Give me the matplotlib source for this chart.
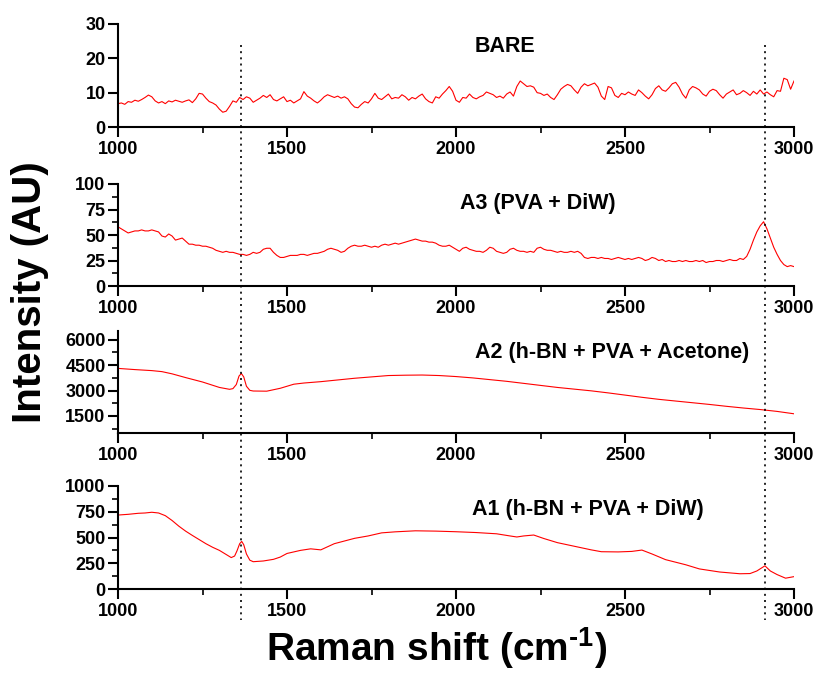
import numpy as np
import matplotlib
matplotlib.use("Agg")
import matplotlib.pyplot as plt
from matplotlib.ticker import MultipleLocator
from matplotlib.lines import Line2D
import matplotlib.transforms as mtransforms

plt.rcParams['font.family'] = ['Liberation Sans', 'DejaVu Sans']
plt.rcParams['font.weight'] = 'bold'
plt.rcParams['mathtext.fontset'] = 'custom'
plt.rcParams['mathtext.rm'] = 'Liberation Sans:bold'
plt.rcParams['mathtext.bf'] = 'Liberation Sans:bold'
plt.rcParams['mathtext.default'] = 'bf'

# ---------------- data ----------------
bare_x = np.arange(1000, 3001, 10)
bare_y = [
    6.8, 7.0, 6.6, 7.4, 7.2, 7.8, 7.5, 8.0, 8.6, 9.3,
    8.8, 7.6, 7.0, 7.4, 6.8, 7.6, 7.3, 7.8, 7.5, 7.2,
    7.6, 7.9, 7.1, 8.2, 9.8, 9.6, 8.4, 7.4, 7.0, 6.4,
    5.2, 4.3, 4.6, 6.0, 7.6, 7.2, 8.6, 8.0, 8.8, 8.4,
    7.2, 7.8, 8.4, 9.2, 8.6, 9.4, 8.0, 7.6, 8.2, 8.8,
    7.4, 7.8, 7.0, 7.6, 8.2, 10.3, 9.0, 8.4, 7.6, 7.0,
    7.8, 8.8, 9.4, 9.0, 8.6, 9.0, 8.4, 8.8, 8.2, 6.8,
    5.8, 5.6, 6.6, 7.4, 7.0, 8.2, 9.8, 8.4, 8.0, 8.8,
    9.6, 8.2, 8.6, 8.4, 9.4, 8.8, 7.8, 8.6, 8.2, 9.0,
    9.6, 8.2, 7.4, 7.0, 8.8, 8.4, 9.6, 10.6, 11.8, 10.4,
    7.8, 7.2, 8.6, 8.4, 9.6, 8.6, 8.2, 8.8, 9.2, 10.2,
    9.8, 9.4, 8.6, 9.0, 8.4, 9.6, 10.2, 9.0, 11.8, 13.4,
    12.6, 11.8, 12.0, 11.6, 10.0, 9.8, 9.2, 9.6, 8.6, 8.0,
    9.4, 11.0, 11.8, 12.4, 12.0, 10.8, 9.8, 11.6, 12.6, 12.0,
    12.4, 12.8, 11.6, 9.0, 8.0, 11.8, 11.4, 9.2, 8.6, 9.8,
    9.4, 10.2, 9.6, 9.2, 10.8, 10.0, 9.0, 8.2, 9.4, 11.2,
    12.0, 10.8, 10.4, 11.4, 12.6, 13.0, 11.6, 9.6, 8.4, 10.8,
    11.8, 11.4, 10.8, 9.6, 9.0, 10.4, 11.0, 10.6, 9.4, 8.4,
    9.6, 10.2, 10.8, 9.4, 9.8, 10.6, 10.0, 9.2, 10.4, 9.6,
    10.8, 9.6, 10.2, 9.4, 8.8, 10.6, 10.4, 14.2, 13.8, 11.0,
    13.4,
]

a3_x = np.arange(1000, 3001, 10)
a3_y = [
    58, 56, 54, 52, 53, 54, 54, 55, 54, 54,
    55, 54, 53, 49, 48, 51, 49, 45, 46, 47,
    44, 41, 41, 40, 40, 39, 39, 38, 37, 35,
    34, 33, 34, 33, 33, 32, 31, 31, 30, 31,
    33, 32, 33, 36, 37, 37, 33, 30, 28, 28,
    29, 30, 30, 30, 31, 31, 30, 31, 32, 32,
    33, 34, 36, 37, 36, 35, 33, 34, 37, 39,
    40, 39, 39, 40, 39, 38, 39, 38, 40, 41,
    40, 41, 42, 41, 42, 43, 44, 45, 46, 45,
    44, 44, 43, 43, 42, 40, 39, 39, 40, 38,
    36, 34, 37, 38, 36, 35, 34, 34, 33, 35,
    38, 37, 34, 33, 32, 33, 36, 37, 35, 34,
    34, 33, 34, 33, 37, 38, 36, 35, 35, 34,
    33, 34, 33, 33, 34, 33, 34, 32, 28, 27,
    28, 28, 27, 28, 27, 27, 26, 27, 28, 27,
    26, 27, 26, 27, 28, 27, 25, 26, 28, 27,
    25, 26, 24, 25, 24, 24, 25, 24, 25, 24,
    24, 25, 24, 25, 23, 24, 24, 25, 25, 24,
    25, 26, 25, 25, 27, 26, 29, 36, 45, 53,
    59, 63, 56, 47, 38, 31, 25, 21, 19, 20,
    19,
]

a2_x = [1000, 1050, 1100, 1130, 1160, 1200, 1250, 1300, 1330, 1340, 1350,
        1358, 1365, 1372, 1380, 1390, 1400, 1440, 1480, 1520, 1550, 1600,
        1650, 1700, 1750, 1800, 1850, 1900, 1950, 2000, 2050, 2100, 2150,
        2200, 2250, 2300, 2350, 2400, 2450, 2500, 2550, 2600, 2650, 2700,
        2750, 2800, 2850, 2900, 2950, 3000]
a2_y = [4300, 4230, 4170, 4110, 3980, 3760, 3500, 3180, 3070, 3110, 3350,
        3850, 4000, 3800, 3250, 3010, 2970, 2960, 3130, 3370, 3440, 3520,
        3620, 3720, 3800, 3880, 3900, 3910, 3880, 3820, 3740, 3640, 3540,
        3420, 3300, 3180, 3080, 2980, 2860, 2730, 2600, 2480, 2380, 2280,
        2180, 2070, 1970, 1880, 1770, 1630]

a1_x = [1000, 1030, 1060, 1080, 1100, 1120, 1140, 1160, 1180, 1200, 1220,
        1240, 1260, 1280, 1300, 1320, 1335, 1345, 1352, 1360, 1366, 1372,
        1380, 1390, 1400, 1430, 1460, 1480, 1500, 1540, 1570, 1600, 1640,
        1700, 1740, 1780, 1820, 1880, 1940, 2000, 2060, 2120, 2160, 2180,
        2200, 2230, 2260, 2300, 2350, 2400, 2430, 2480, 2520, 2550, 2580,
        2620, 2680, 2720, 2780, 2840, 2870, 2890, 2914, 2930, 2950, 2975,
        3000]
a1_y = [718, 725, 735, 738, 745, 738, 712, 665, 610, 562, 520,
        480, 440, 405, 375, 335, 305, 320, 370, 440, 462, 430,
        340, 280, 265, 272, 288, 310, 345, 375, 390, 380, 440,
        492, 515, 545, 555, 565, 562, 556, 548, 536, 515, 505,
        515, 524, 490, 450, 415, 380, 362, 360, 365, 378, 340,
        285, 235, 195, 165, 148, 150, 175, 225, 175, 140, 105,
        120]

labels = ["BARE", "A3 (PVA + DiW)", "A2 (h-BN + PVA + Acetone)", "A1 (h-BN + PVA + DiW)"]
marker_lines = [1365, 2915]
xticks = [1000, 1500, 2000, 2500, 3000]

series = [
    (bare_x, bare_y, (0, 30), [0, 10, 20, 30], None),
    (a3_x, a3_y, (0, 100), [0, 25, 50, 75, 100], 12.5),
    (a2_x, a2_y, (500, 6500), [1500, 3000, 4500, 6000], 750),
    (a1_x, a1_y, (0, 1000), [0, 250, 500, 750, 1000], 125),
]

# ---------------- layout ----------------
W, H = 816, 673
fig = plt.figure(figsize=(W / 100, H / 100), dpi=100)
left = 118 / W
width = (794 - 118) / W
panel_px = [(24, 127), (184, 286), (331, 433), (486, 589)]
text_pos = [(0.572, 0.777), (0.621, 0.804), (0.731, 0.794), (0.695, 0.767)]

axes = []
for i, ((x, y, ylim, yt, ymin), (top, bot)) in enumerate(zip(series, panel_px)):
    ax = fig.add_axes([left, 1 - bot / H, width, (bot - top) / H])
    ax.plot(x, y, color='#ff0000', lw=0.8)
    ax.set_xlim(1000, 3000)
    ax.set_ylim(*ylim)
    ax.set_xticks(xticks)
    ax.xaxis.set_minor_locator(MultipleLocator(250))
    ax.set_yticks(yt)
    if ymin is not None:
        ax.yaxis.set_minor_locator(MultipleLocator(ymin))
    for s in ['top', 'right']:
        ax.spines[s].set_visible(False)
    for s in ['left', 'bottom']:
        ax.spines[s].set_linewidth(1.5)
    ax.tick_params(which='major', direction='out', length=7, width=1.5,
                   labelsize=13, pad=3)
    ax.tick_params(which='minor', direction='out', length=4, width=1.2)
    ax.tick_params(axis='y', pad=2)
    for lab in ax.get_xticklabels() + ax.get_yticklabels():
        lab.set_fontweight('bold')
    ax.text(text_pos[i][0], text_pos[i][1], labels[i], transform=ax.transAxes,
            ha='center', va='center', fontsize=15.5, fontweight='bold')
    ax.patch.set_visible(False)
    axes.append(ax)

# vertical dotted marker lines spanning all panels
trans = mtransforms.blended_transform_factory(axes[0].transData, fig.transFigure)
for xv in marker_lines:
    fig.add_artist(Line2D([xv, xv], [1 - 45 / H, 1 - 620 / H], transform=trans,
                          color='black', lw=1.2, linestyle=(0, (1.2, 2.5))))

fig.text(30 / W, 1 - 292 / H, "Intensity (AU)", rotation=90, ha='center',
         va='center', fontsize=29, fontweight='bold')
fig.text(437 / W, 1 - 648 / H, r"Raman shift (cm$^{\text{-1}}$)", ha='center',
         va='center', fontsize=28, fontweight='bold')

fig.savefig("out.png", dpi=100)
